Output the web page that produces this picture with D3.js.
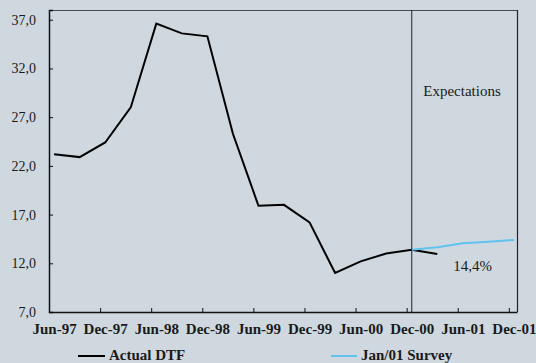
<!DOCTYPE html>
<html>
<head>
<meta charset="utf-8">
<script src="https://cdn.jsdelivr.net/npm/d3@7"></script>
<style>
  html, body { margin: 0; padding: 0; background: #cfd8df; }
  svg { display: block; }
  text { font-family: "Liberation Serif", "Times New Roman", serif; fill: #1a1a1a; }
</style>
</head>
<body>
<svg id="chart" width="536" height="363"></svg>
<script>
// Quarterly periods, index 0 = Jun-97 ... 18 = Dec-01
const periods = ["Jun-97","Sep-97","Dec-97","Mar-98","Jun-98","Sep-98","Dec-98","Mar-99","Jun-99","Sep-99","Dec-99","Mar-00","Jun-00","Sep-00","Dec-00","Mar-01","Jun-01","Sep-01","Dec-01"];
const actualDTF = [23.2, 22.9, 24.4, 28.0, 36.6, 35.6, 35.3, 25.3, 17.9, 18.0, 16.2, 11.0, 12.2, 13.0, 13.4, 12.95];
const surveyPeriods = ["Dec-00","Mar-01","Jun-01","Sep-01","Dec-01"];
const surveyJan01 = [13.4, 13.65, 14.05, 14.2, 14.4];
const xTickLabels = ["Jun-97","Dec-97","Jun-98","Dec-98","Jun-99","Dec-99","Jun-00","Dec-00","Jun-01","Dec-01"];
const yTicks = [7, 12, 17, 22, 27, 32, 37];
const expectationsStart = "Dec-00";

const svg = d3.select("#chart");
const L = 49, R = 517, T = 10, B = 312;

const idx = p => periods.indexOf(p);
const x = d3.scaleLinear().domain([-0.2, 18.12]).range([L, R]);
const y = d3.scaleLinear().domain([7, 38]).range([B, T]);
const fmt = v => d3.format(".1f")(v).replace(".", ",");

// frame top & right
svg.append("line").attr("x1", L).attr("x2", R).attr("y1", T + 0.5).attr("y2", T + 0.5)
  .attr("stroke", "#4a4a4a").attr("stroke-width", 1.2);
svg.append("line").attr("x1", R + 0.5).attr("x2", R + 0.5).attr("y1", T).attr("y2", B)
  .attr("stroke", "#222").attr("stroke-width", 1.2);

// Expectations divider
const xe = x(idx(expectationsStart));
svg.append("line").attr("x1", xe).attr("x2", xe).attr("y1", T).attr("y2", B)
  .attr("stroke", "#222").attr("stroke-width", 1);
svg.append("text").attr("x", 462).attr("y", 96).attr("text-anchor", "middle")
  .attr("font-size", 15).text("Expectations");

// Y axis
const yAxis = d3.axisLeft(y).tickValues(yTicks).tickFormat(fmt).tickSize(-4).tickPadding(13);
const gy = svg.append("g").attr("transform", `translate(${L},0)`).call(yAxis);
gy.select(".domain").attr("stroke", "#111").attr("stroke-width", 1.5);
gy.selectAll(".tick line").attr("stroke", "#111");
gy.selectAll("text").attr("font-size", 14).attr("font-family", "Liberation Serif").attr("fill", "#1a1a1a");

// X axis labels (centered at data positions)
const labelIdx = xTickLabels.map(idx);
const xAxisLabels = d3.axisBottom(x).tickValues(labelIdx)
  .tickFormat(i => periods[i]).tickSize(0).tickPadding(11);
const gx = svg.append("g").attr("transform", `translate(0,${B})`).call(xAxisLabels);
gx.select(".domain").remove();
gx.selectAll("text").attr("font-size", 15).attr("font-weight", "bold")
  .attr("font-family", "Liberation Serif").attr("fill", "#1a1a1a");

// X tick marks (slightly left of the labels)
const xAxisTicks = d3.axisBottom(x).tickValues(labelIdx.map(i => i - 0.2))
  .tickFormat("").tickSize(-4).tickSizeOuter(0);
const gxt = svg.append("g").attr("transform", `translate(0,${B})`).call(xAxisTicks);
gxt.select(".domain").attr("stroke", "#111").attr("stroke-width", 1.5);
gxt.selectAll(".tick line").attr("stroke", "#111");

// Lines
const line = d3.line().x(d => x(d[0])).y(d => y(d[1]));
svg.append("path")
  .datum(actualDTF.map((v, i) => [i, v]))
  .attr("d", line).attr("fill", "none").attr("stroke", "#000").attr("stroke-width", 2)
  .attr("stroke-linejoin", "miter");
svg.append("path")
  .datum(surveyJan01.map((v, i) => [idx(surveyPeriods[i]), v]))
  .attr("d", line).attr("fill", "none").attr("stroke", "#5fc3ee").attr("stroke-width", 2);

// Annotation
svg.append("text").attr("x", 472.5).attr("y", 270.5).attr("text-anchor", "middle")
  .attr("font-size", 15).text(fmt(surveyJan01[surveyJan01.length - 1]) + "%");

// Legend
const legend = [
  { name: "Actual DTF", color: "#000", x1: 78, x2: 105, tx: 109 },
  { name: "Jan/01 Survey", color: "#5fc3ee", x1: 331, x2: 357, tx: 361 }
];
legend.forEach(d => {
  svg.append("line").attr("x1", d.x1).attr("x2", d.x2).attr("y1", 356).attr("y2", 356)
    .attr("stroke", d.color).attr("stroke-width", 2);
  svg.append("text").attr("x", d.tx).attr("y", 360).attr("font-size", 15)
    .attr("font-weight", "bold").text(d.name);
});
</script>
</body>
</html>
